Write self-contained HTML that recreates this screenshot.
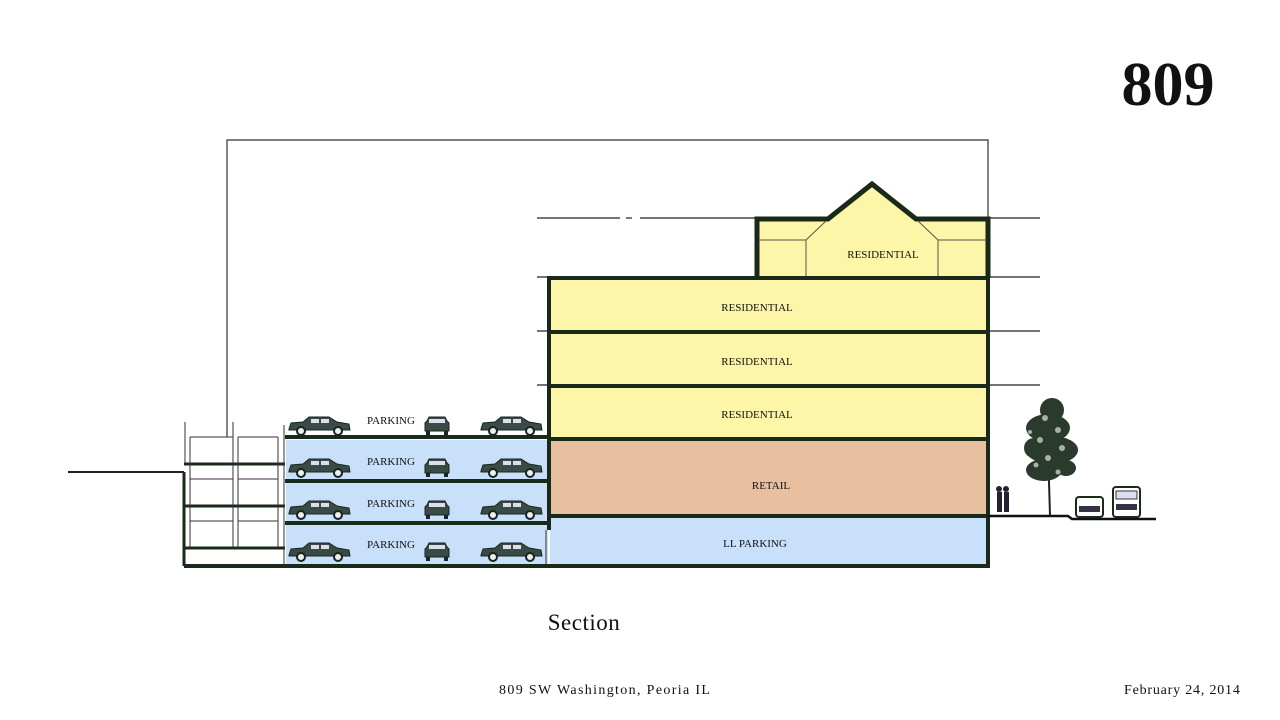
<!DOCTYPE html>
<html><head><meta charset="utf-8"><style>
body{margin:0;background:#fff;width:1280px;height:720px;overflow:hidden}
svg{display:block}
text{font-family:"Liberation Serif",serif;fill:#111}
</style></head><body>
<svg width="1280" height="720" viewBox="0 0 1280 720">
<defs>
<g id="car">
<path d="M0,12 L2,6 L14,5 L20,0 L40,0 L48,5 L60,7 L61,13 L0,13Z" fill="#3a4a44" stroke="#1a2420" stroke-width="1"/>
<rect x="22" y="2" width="8" height="4" fill="#dde"/><rect x="32" y="2" width="8" height="4" fill="#dde"/>
<circle cx="12" cy="14" r="4" fill="#eee" stroke="#1a2420" stroke-width="2"/>
<circle cx="49" cy="14" r="4" fill="#eee" stroke="#1a2420" stroke-width="2"/>
</g>
<g id="carf">
<path d="M2,4 L4,0 L20,0 L22,4 L24,6 L24,14 L0,14 L0,6Z" fill="#3a4a44" stroke="#1a2420"/>
<rect x="4" y="2" width="16" height="4" fill="#dde"/>
<rect x="1" y="14" width="4" height="4" fill="#1a2420"/><rect x="19" y="14" width="4" height="4" fill="#1a2420"/>
</g>
</defs>
<path d="M227,437 V140 H988 V278" fill="none" stroke="#333" stroke-width="1.2"/>
<g stroke="#222" stroke-width="1.2">
<line x1="537" y1="218" x2="620" y2="218"/><line x1="626" y1="218" x2="632" y2="218"/><line x1="640" y1="218" x2="757" y2="218"/>
<line x1="988" y1="218" x2="1040" y2="218"/>
<line x1="537" y1="277" x2="1040" y2="277"/><line x1="537" y1="331" x2="1040" y2="331"/><line x1="537" y1="385" x2="1040" y2="385"/>
<line x1="68" y1="472" x2="184" y2="472" stroke-width="2"/>
</g>
<rect x="550" y="280" width="436" height="158" fill="#fdf6a8"/>
<rect x="550" y="440" width="436" height="76" fill="#e8c0a0"/>
<rect x="550" y="516" width="436" height="50" fill="#c8e0fa"/>
<rect x="286" y="440" width="262" height="126" fill="#c8e0fa"/>
<path d="M759,221 H826 L872,186 L918,221 H986 V278 H759Z" fill="#fdf6a8"/>
<path d="M757,278 V219 H828 L872,184 L916,219 H988 V278" fill="none" stroke="#1a2a1a" stroke-width="5"/>
<path d="M759,240 H806 L826,221 M806,240 V278 M986,240 H938 L918,221 M938,240 V278" fill="none" stroke="#554" stroke-width="1"/>
<g stroke="#1a2a1a" stroke-width="4" fill="none">
<line x1="548" y1="278" x2="988" y2="278"/>
<line x1="548" y1="332" x2="988" y2="332"/>
<line x1="548" y1="386" x2="988" y2="386"/>
<line x1="548" y1="439" x2="988" y2="439"/>
<line x1="548" y1="516" x2="988" y2="516"/>
<line x1="184" y1="566" x2="990" y2="566"/>
<line x1="988" y1="218" x2="988" y2="566"/>
<line x1="549" y1="276" x2="549" y2="530"/>
<line x1="285" y1="437" x2="548" y2="437"/>
<line x1="285" y1="481" x2="548" y2="481"/>
<line x1="285" y1="523" x2="548" y2="523"/>
<line x1="184" y1="472" x2="184" y2="566" stroke-width="3"/>
<line x1="184" y1="464" x2="285" y2="464" stroke-width="3"/>
<line x1="184" y1="506" x2="285" y2="506" stroke-width="3"/>
<line x1="184" y1="548" x2="285" y2="548" stroke-width="3"/>
</g>
<g stroke="#333" stroke-width="1" fill="none">
<line x1="185" y1="422" x2="185" y2="464"/><line x1="190" y1="437" x2="190" y2="548"/>
<line x1="233" y1="422" x2="233" y2="548"/><line x1="238" y1="437" x2="238" y2="548"/>
<line x1="278" y1="437" x2="278" y2="548"/><line x1="284" y1="425" x2="284" y2="566"/>
<line x1="190" y1="437" x2="233" y2="437"/><line x1="238" y1="437" x2="278" y2="437"/>
<line x1="190" y1="479" x2="233" y2="479"/><line x1="238" y1="479" x2="278" y2="479"/>
<line x1="190" y1="521" x2="233" y2="521"/><line x1="238" y1="521" x2="278" y2="521"/>
<line x1="546" y1="530" x2="546" y2="566"/>
</g>
<g>
<use href="#car" x="289" y="417"/><use href="#carf" x="425" y="417"/><use href="#car" x="481" y="417"/>
<use href="#car" x="289" y="459"/><use href="#carf" x="425" y="459"/><use href="#car" x="481" y="459"/>
<use href="#car" x="289" y="501"/><use href="#carf" x="425" y="501"/><use href="#car" x="481" y="501"/>
<use href="#car" x="289" y="543"/><use href="#carf" x="425" y="543"/><use href="#car" x="481" y="543"/>
</g>
<g font-size="11" text-anchor="middle">
<text x="391" y="424">PARKING</text><text x="391" y="465">PARKING</text>
<text x="391" y="507">PARKING</text><text x="391" y="548">PARKING</text>
<text x="757" y="311">RESIDENTIAL</text><text x="757" y="365">RESIDENTIAL</text>
<text x="757" y="418">RESIDENTIAL</text><text x="883" y="258">RESIDENTIAL</text>
<text x="771" y="489">RETAIL</text><text x="755" y="547">LL PARKING</text>
</g>
<path d="M988,516 H1068 L1072,519 H1156" fill="none" stroke="#111" stroke-width="2.5"/>
<line x1="1048" y1="450" x2="1050" y2="515" stroke="#222" stroke-width="2"/>
<g fill="#2a3a2c">
<ellipse cx="1052" cy="410" rx="12" ry="12"/><ellipse cx="1048" cy="428" rx="22" ry="14"/>
<ellipse cx="1052" cy="450" rx="26" ry="14"/><ellipse cx="1044" cy="470" rx="18" ry="11"/>
<ellipse cx="1066" cy="468" rx="10" ry="8"/><ellipse cx="1034" cy="448" rx="10" ry="10"/>
</g>
<g fill="#fff" opacity="0.6"><circle cx="1045" cy="418" r="3"/><circle cx="1058" cy="430" r="3"/><circle cx="1040" cy="440" r="3"/><circle cx="1062" cy="448" r="3"/><circle cx="1048" cy="458" r="3"/><circle cx="1036" cy="465" r="2.5"/><circle cx="1058" cy="472" r="2.5"/><circle cx="1030" cy="432" r="2"/><circle cx="1070" cy="438" r="2"/></g>
<g fill="#223"><rect x="997" y="492" width="5" height="20"/><rect x="1004" y="492" width="5" height="20"/><circle cx="999" cy="489" r="3"/><circle cx="1006" cy="489" r="3"/></g>
<rect x="1076" y="497" width="27" height="20" rx="3" fill="#fff" stroke="#1a2a1a" stroke-width="2"/>
<rect x="1079" y="506" width="21" height="6" fill="#334"/>
<rect x="1113" y="487" width="27" height="30" rx="3" fill="#fff" stroke="#1a2a1a" stroke-width="2"/>
<rect x="1116" y="491" width="21" height="8" fill="#dde" stroke="#334"/>
<rect x="1116" y="504" width="21" height="6" fill="#334"/>
<text x="1168" y="105" font-size="62" font-weight="bold" text-anchor="middle">809</text>
<text x="584" y="630" font-size="23" text-anchor="middle" letter-spacing="0.5">Section</text>
<text x="499" y="694" font-size="14" letter-spacing="1.35">809 SW Washington, Peoria IL</text>
<text x="1124" y="694" font-size="14" letter-spacing="0.8">February 24, 2014</text>
</svg>
</body></html>
